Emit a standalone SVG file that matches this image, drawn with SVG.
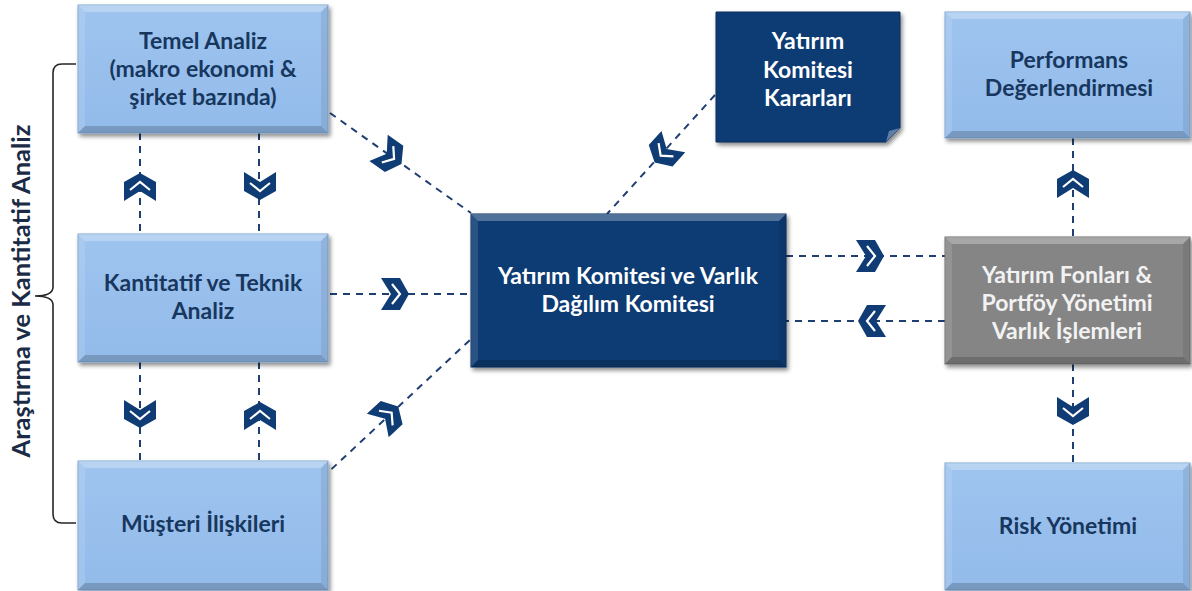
<svg xmlns="http://www.w3.org/2000/svg" xmlns:xlink="http://www.w3.org/1999/xlink" width="1192" height="591" viewBox="0 0 1192 591">
<defs>
<filter id="sh" x="-10%" y="-10%" width="125%" height="130%">
<feDropShadow dx="2" dy="3" stdDeviation="2.2" flood-color="#000" flood-opacity="0.45"/>
</filter>
<linearGradient id="gLb" x1="0" y1="0" x2="0" y2="1">
<stop offset="0" stop-color="#9EC4EF"/>
<stop offset="1" stop-color="#93BBEA"/>
</linearGradient>
<g id="chev">
<polygon points="14,0 5,16 -14,16 -4,0 -14,-16 5,-16" fill="#0F3C74"/>
<polyline points="-3,-10 5,0 -3,10" fill="none" stroke="#fff" stroke-width="2.2"/>
</g>
</defs>
<style>
.face{stroke-width:1}
.lb .face{fill:url(#gLb);stroke:#7FA3CF}
.nv .face{fill:#0D3A73;stroke:#0A2F5E}
.gr .face{fill:#858585;stroke:#6E6E6E}
.bt{fill:#fff;opacity:.28}
.bl{fill:#fff;opacity:.12}
.br{fill:#000;opacity:.08}
.bb{fill:#000;opacity:.18}
text{font-family:Lato,"Open Sans","Liberation Sans",sans-serif;font-weight:bold;font-size:23px;text-anchor:middle}
.lb text{fill:#17375E}
.nv text{fill:#FFFFFF}
.gr text{fill:#F2F2F2}
.ln{fill:none;stroke:#1F3F73;stroke-width:2;stroke-dasharray:7 6}
</style>
<rect width="1192" height="591" fill="#fff"/>

<g id="connectors">
<path class="ln" d="M330,113 L471,213"/>
<path class="ln" d="M330,294 H471"/>
<path class="ln" d="M322,478 L471,339"/>
<path class="ln" d="M715,95 L607,214"/>
<path class="ln" d="M786,256 H945"/>
<path class="ln" d="M945,321 H786"/>
<path class="ln" d="M140,133 V234"/>
<path class="ln" d="M259,133 V234"/>
<path class="ln" d="M140,362 V461"/>
<path class="ln" d="M259,362 V461"/>
<path class="ln" d="M1073,138 V237"/>
<path class="ln" d="M1073,364 V463"/>
<use xlink:href="#chev" transform="translate(390,156) rotate(35)"/>
<use xlink:href="#chev" transform="translate(395,294)"/>
<use xlink:href="#chev" transform="translate(388,416) rotate(-43)"/>
<use xlink:href="#chev" transform="translate(664,152) rotate(132)"/>
<use xlink:href="#chev" transform="translate(870,256)"/>
<use xlink:href="#chev" transform="translate(872,321) rotate(180)"/>
<use xlink:href="#chev" transform="translate(140,187) rotate(-90)"/>
<use xlink:href="#chev" transform="translate(260,186) rotate(90)"/>
<use xlink:href="#chev" transform="translate(140,414) rotate(90)"/>
<use xlink:href="#chev" transform="translate(260,416) rotate(-90)"/>
<use xlink:href="#chev" transform="translate(1073,184) rotate(-90)"/>
<use xlink:href="#chev" transform="translate(1073,411) rotate(90)"/>
</g>

<g id="brace">
<path d="M76,64 H62 Q53,64 53,73 V287 Q53,296 35,296 Q53,296 53,305 V514 Q53,523 62,523 H76" fill="none" stroke="#262626" stroke-width="1.6"/>
<text transform="translate(30,291) rotate(-90)" fill="#1B2B45" style="font-size:25.5px">Araştırma ve Kantitatif Analiz</text>
</g>

<g id="n-temel" class="lb">
<rect class="face" x="78" y="5" width="250" height="128" filter="url(#sh)"/>
<polygon class="bt" points="78,5 328,5 321,12 85,12"/>
<polygon class="bl" points="78,5 85,12 85,126 78,133"/>
<polygon class="br" points="328,5 321,12 321,126 328,133"/>
<polygon class="bb" points="78,133 85,126 321,126 328,133"/>
<text x="203" y="49">Temel Analiz</text>
<text x="203" y="77">(makro ekonomi &amp;</text>
<text x="203" y="105">şirket bazında)</text>
</g>

<g id="n-kantitatif" class="lb">
<rect class="face" x="78" y="234" width="250" height="128" filter="url(#sh)"/>
<polygon class="bt" points="78,234 328,234 321,241 85,241"/>
<polygon class="bl" points="78,234 85,241 85,355 78,362"/>
<polygon class="br" points="328,234 321,241 321,355 328,362"/>
<polygon class="bb" points="78,362 85,355 321,355 328,362"/>
<text x="203" y="291">Kantitatif ve Teknik</text>
<text x="203" y="319">Analiz</text>
</g>

<g id="n-musteri" class="lb">
<rect class="face" x="78" y="461" width="250" height="129" filter="url(#sh)"/>
<polygon class="bt" points="78,461 328,461 321,468 85,468"/>
<polygon class="bl" points="78,461 85,468 85,583 78,590"/>
<polygon class="br" points="328,461 321,468 321,583 328,590"/>
<polygon class="bb" points="78,590 85,583 321,583 328,590"/>
<text x="203" y="532">Müşteri İlişkileri</text>
</g>

<g id="n-merkez" class="nv">
<rect class="face" x="471" y="214" width="315" height="153" filter="url(#sh)"/>
<polygon class="bt" points="471,214 786,214 779,221 478,221"/>
<polygon class="bl" points="471,214 478,221 478,360 471,367"/>
<polygon class="br" points="786,214 779,221 779,360 786,367"/>
<polygon class="bb" points="471,367 478,360 779,360 786,367"/>
<text x="628" y="284">Yatırım Komitesi ve Varlık</text>
<text x="628" y="312">Dağılım Komitesi</text>
</g>

<g id="n-kararlar" class="nv">
<path class="face" d="M716,12 H900 V128 L886,142 H716 Z" filter="url(#sh)"/>
<path d="M900,128 L886,142 L889,131 Z" fill="#5F7FA8"/>
<text x="808" y="49">Yatırım</text>
<text x="808" y="77.5">Komitesi</text>
<text x="808" y="106">Kararları</text>
</g>

<g id="n-performans" class="lb">
<rect class="face" x="945" y="12" width="245" height="126" filter="url(#sh)"/>
<polygon class="bt" points="945,12 1190,12 1183,19 952,19"/>
<polygon class="bl" points="945,12 952,19 952,131 945,138"/>
<polygon class="br" points="1190,12 1183,19 1183,131 1190,138"/>
<polygon class="bb" points="945,138 952,131 1183,131 1190,138"/>
<text x="1069" y="68">Performans</text>
<text x="1069" y="96">Değerlendirmesi</text>
</g>

<g id="n-fonlar" class="gr">
<rect class="face" x="945" y="237" width="245" height="127" filter="url(#sh)"/>
<polygon class="bt" points="945,237 1190,237 1183,244 952,244"/>
<polygon class="bl" points="945,237 952,244 952,357 945,364"/>
<polygon class="br" points="1190,237 1183,244 1183,357 1190,364"/>
<polygon class="bb" points="945,364 952,357 1183,357 1190,364"/>
<text x="1067" y="283">Yatırım Fonları &amp;</text>
<text x="1067" y="311">Portföy Yönetimi</text>
<text x="1067" y="339">Varlık İşlemleri</text>
</g>

<g id="n-risk" class="lb">
<rect class="face" x="945" y="463" width="245" height="127" filter="url(#sh)"/>
<polygon class="bt" points="945,463 1190,463 1183,470 952,470"/>
<polygon class="bl" points="945,463 952,470 952,583 945,590"/>
<polygon class="br" points="1190,463 1183,470 1183,583 1190,590"/>
<polygon class="bb" points="945,590 952,583 1183,583 1190,590"/>
<text x="1068" y="534">Risk Yönetimi</text>
</g>
</svg>
